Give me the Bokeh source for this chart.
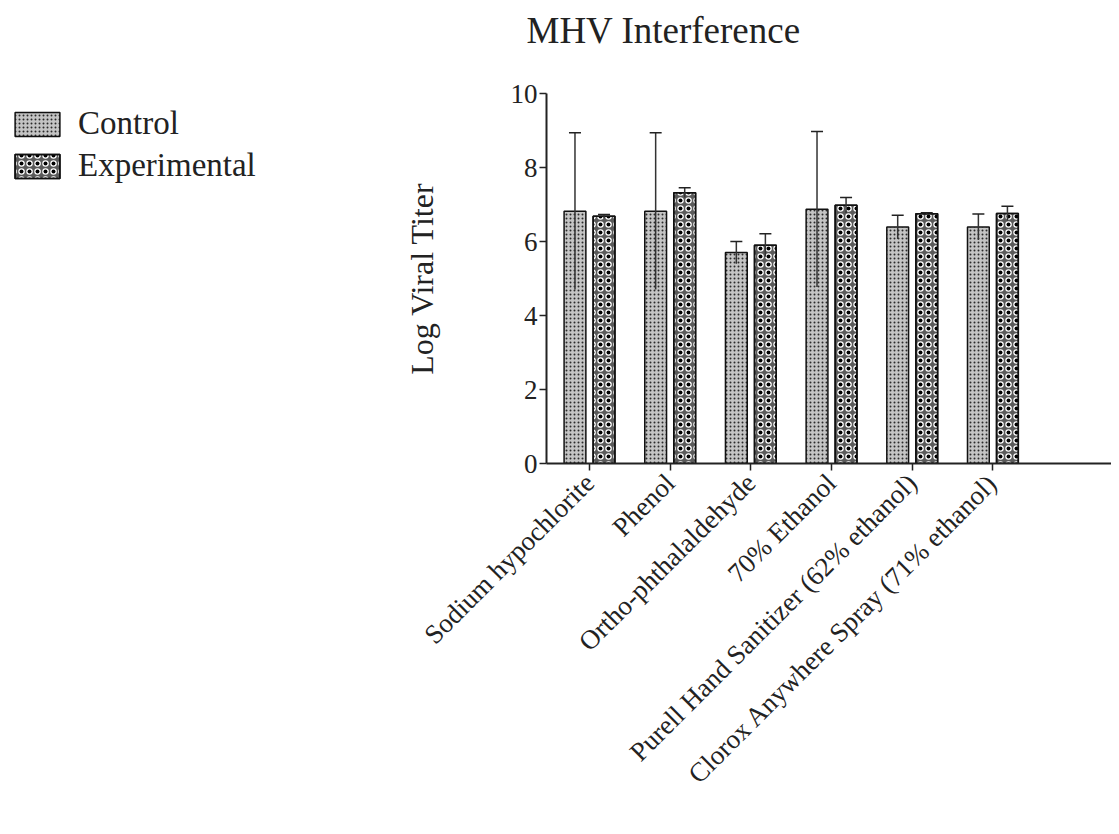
import numpy as np
from bokeh.plotting import figure
from bokeh.layouts import row
from bokeh.models import (ColumnDataSource, Range1d, FixedTicker, Whisker, TeeHead,
                          Legend, LegendItem, Title)
from bokeh.embed import file_html
from bokeh.resources import INLINE

categories = ["Sodium hypochlorite", "Phenol", "Ortho-phthalaldehyde", "70% Ethanol",
              "Purell Hand Sanitizer (62% ethanol)", "Clorox Anywhere Spray (71% ethanol)"]
control_mean = [6.82, 6.82, 5.70, 6.87, 6.39, 6.39]
control_err = [2.12, 2.12, 0.30, 2.10, 0.32, 0.35]
exp_mean = [6.68, 7.32, 5.90, 6.98, 6.75, 6.76]
exp_err = [0.05, 0.13, 0.31, 0.21, 0.03, 0.19]
y_ticks = [0, 2, 4, 6, 8, 10]
title_text = "MHV Interference"
series_names = ["Control", "Experimental"]

FONT = "Liberation Serif"
TXT = "#222222"
idx = np.arange(len(categories))
OFF = 0.18
W = 0.27
H = 826
SHIFT = 12
LEG_W = 300

CTRL_STYLE = dict(fill_color="#c4c4c4", line_color="#111111", line_width=1.5,
                  hatch_pattern="dot", hatch_scale=4, hatch_color="#2a2a2a")
EXP_BASE = dict(fill_color="#5a5a5a", line_color="#111111", line_width=1.5,
                hatch_pattern="ring", hatch_scale=8, hatch_weight=2.5, hatch_color="white")
EXP_TOP = dict(fill_color=None, line_color="#111111", line_width=1.5,
               hatch_pattern="dot", hatch_scale=8, hatch_color="black")

ctrl = ColumnDataSource(dict(x=idx - OFF, top=control_mean,
                             upper=np.array(control_mean) + np.array(control_err),
                             lower=np.array(control_mean) - np.array(control_err)))
expt = ColumnDataSource(dict(x=idx + OFF, top=exp_mean,
                             upper=np.array(exp_mean) + np.array(exp_err),
                             lower=np.array(exp_mean) - np.array(exp_err)))

# ---- main plot (fixed frame size)
p = figure(frame_width=565, frame_height=370, output_backend="svg", toolbar_location=None,
           title=None,
           x_range=Range1d(-0.533, 6.47), y_range=Range1d(0, 10),
           min_border_left=546 - LEG_W, min_border_right=0, min_border_top=96,
           min_border_bottom=0, outline_line_color=None,
           margin=(-SHIFT, 0, 0, 0))

# spacer (closest to the frame) then the visible title
p.add_layout(Title(text=" ", text_font=FONT, text_font_size="20px", standoff=18), "above")
p.add_layout(Title(text=title_text, text_font=FONT, text_font_size="37px",
                   text_font_style="normal", text_color=TXT, align="left",
                   offset=-20, standoff=2), "above")

p.vbar(x="x", top="top", bottom=0, width=W, source=ctrl, **CTRL_STYLE)
p.vbar(x="x", top="top", bottom=0, width=W, source=expt, **EXP_BASE)
p.vbar(x="x", top="top", bottom=0, width=W, source=expt, **EXP_TOP)

for src in (ctrl, expt):
    wk = Whisker(base="x", upper="upper", lower="lower", source=src,
                 upper_head=TeeHead(size=12, line_color=TXT, line_width=1.5),
                 lower_head=None, line_color="#333333", line_width=1.5, level="overlay")
    p.add_layout(wk)

p.xgrid.visible = False
p.ygrid.visible = False

p.yaxis.ticker = FixedTicker(ticks=y_ticks)
p.yaxis.minor_tick_line_color = None
p.yaxis.major_tick_in = 0
p.yaxis.major_tick_out = 7
p.yaxis.major_label_text_font = FONT
p.yaxis.major_label_text_font_size = "27px"
p.yaxis.major_label_text_color = TXT
p.yaxis.major_label_standoff = 2
p.yaxis.axis_label = "Log Viral Titer"
p.yaxis.axis_label_text_font = FONT
p.yaxis.axis_label_text_font_size = "32px"
p.yaxis.axis_label_text_font_style = "normal"
p.yaxis.axis_label_text_color = TXT
p.yaxis.axis_label_standoff = 68

p.xaxis.ticker = FixedTicker(ticks=list(idx))
p.xaxis.major_label_overrides = {int(i): c for i, c in zip(idx, categories)}
p.xaxis.minor_tick_line_color = None
p.xaxis.major_tick_in = 0
p.xaxis.major_tick_out = 7
p.xaxis.major_label_orientation = np.pi / 4
p.xaxis.major_label_text_font = FONT
p.xaxis.major_label_text_font_size = "27px"
p.xaxis.major_label_text_color = TXT
p.xaxis.major_label_standoff = 8

for ax in (p.xaxis, p.yaxis):
    ax.axis_line_color = TXT
    ax.axis_line_width = 2
    ax.major_tick_line_color = TXT
    ax.major_tick_line_width = 1.5

# ---- legend panel on the left
lf = figure(width=LEG_W, height=H - 40, output_backend="svg", toolbar_location=None,
            x_range=Range1d(0, 1), y_range=Range1d(0, 1),
            x_axis_location=None, y_axis_location=None,
            min_border_left=9, min_border_top=105, min_border_right=0, min_border_bottom=0,
            outline_line_color=None)
lf.grid.visible = False
hid = dict(x=[np.nan], top=[np.nan])
l1 = lf.vbar(x="x", top="top", bottom=0, width=0.1, source=ColumnDataSource(hid), **CTRL_STYLE)
l2a = lf.vbar(x="x", top="top", bottom=0, width=0.1, source=ColumnDataSource(hid), **EXP_BASE)
l2b = lf.vbar(x="x", top="top", bottom=0, width=0.1, source=ColumnDataSource(hid), **EXP_TOP)
legend = Legend(items=[LegendItem(label=series_names[0], renderers=[l1]),
                       LegendItem(label=series_names[1], renderers=[l2a, l2b])],
                location="top_left", glyph_width=56, glyph_height=30,
                label_text_font=FONT, label_text_font_size="33px",
                label_text_color=TXT, label_standoff=13, spacing=5,
                padding=0, margin=0, border_line_color=None,
                background_fill_color=None)
lf.add_layout(legend, "center")

layout = row(lf, p, spacing=0)
open("out.html", "w").write(file_html(layout, INLINE))
